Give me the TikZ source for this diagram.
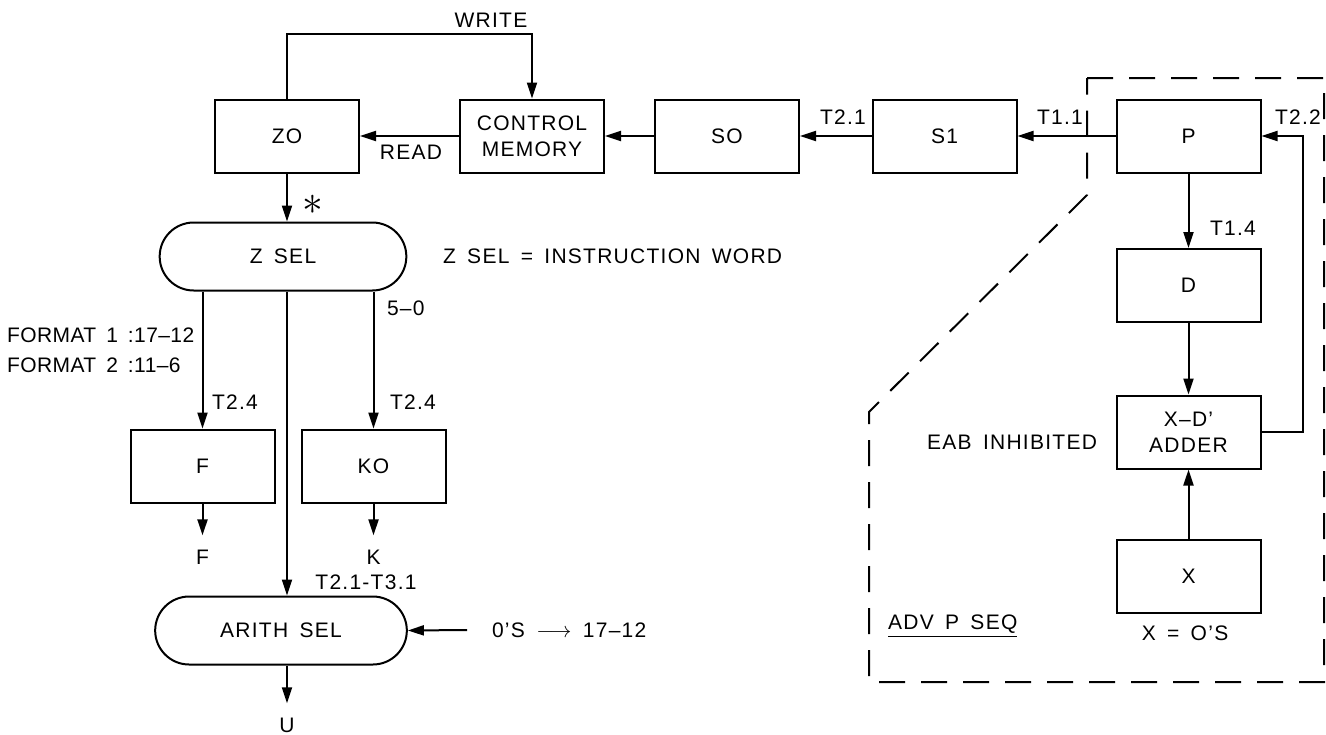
\documentclass[tikz,border=0pt]{standalone}
\usepackage{fontspec}
\setmainfont{Liberation Sans}[LetterSpace=6, WordSpace=1.6]
\usetikzlibrary{arrows.meta, shapes.misc}

\tikzset{
    blk/.style={draw, line width=1pt, minimum width=72pt, minimum height=36.5pt, align=center, inner sep=2pt},
    sel/.style={draw, line width=1pt, rounded rectangle, minimum width=130pt, minimum height=34pt},
    arr/.style={line width=1pt, -{Triangle[length=8pt,width=5pt]}},
    outlbl/.style={inner sep=7pt},
    bound/.style={line width=1pt, dash pattern=on 13pt off 8pt}
}

\begin{document}
\begin{tikzpicture}[x=0.5pt, y=-0.5pt, font=\fontsize{10.5}{13}\selectfont]
    \useasboundingbox (0,0) rectangle (1326,734);

    % Top row of registers
    \node[blk] (zo) at (287,136) {ZO};
    \node[blk] (ctrlmem) at (532,136) {CONTROL\\MEMORY};
    \node[blk] (so) at (727,136) {SO};
    \node[blk] (sone) at (944.5,136) {S1};
    \node[blk] (preg) at (1188.5,136) {P};

    % P sequence column
    \node[blk] (dreg) at (1188.5,285.5) {D};
    \node[blk] (adder) at (1188.5,432) {X--D'\\ADDER};
    \node[blk] (xreg) at (1188.5,576) {X};

    % Selection and output registers
    \node[sel] (zsel) at (283,256.5) {Z SEL};
    \node[blk] (freg) at (202.5,466) {F};
    \node[blk] (koreg) at (373.5,466) {KO};
    \node[sel, minimum width=132.5pt] (arith) at (281,630.5) {ARITH SEL};

    % Output labels
    \node[outlbl] (fout) at (202.5,557) {F};
    \node[outlbl] (kout) at (373.5,557) {K};
    \node[outlbl] (uout) at (287,725) {U};
    \node[anchor=west] (zeros) at (485,630) {0'S $\longrightarrow$ 17--12};

    % Text labels
    \node (write) at (491,20) {WRITE};
    \node (read) at (411,152) {READ};
    \node (ttwoone) at (843,117) {T2.1};
    \node (toneone) at (1060,117) {T1.1};
    \node[anchor=west] (ttwotwo) at (1268,117) {T2.2};
    \node[anchor=west] (tonefour) at (1203,228) {T1.4};
    \node (star) at (313,205) {\huge$\ast$};
    \node[anchor=west] (zselnote) at (436,256) {Z SEL = INSTRUCTION WORD};
    \node[anchor=west] (lowbits) at (380,308) {5--0};
    \node[anchor=west, align=left, font=\fontsize{10.5}{13}\selectfont\addfontfeature{LetterSpace=2}] (fmt) at (0,350) {FORMAT 1 :17--12\\[2pt]FORMAT 2 :11--6};
    \node[anchor=west] (tfl) at (205,402) {T2.4};
    \node[anchor=west] (tkl) at (383,402) {T2.4};
    \node (tarith) at (366,582) {T2.1-T3.1};
    \node[anchor=east] (eab) at (1104,442) {EAB INHIBITED};
    \node[anchor=west] (advp) at (881,626) {\underline{ADV P SEQ}};
    \node (xzero) at (1185,633) {X = O'S};

    % Top row connections
    \draw[arr] (zo.north) -- ++(0,-65) -| (ctrlmem.north);
    \draw[arr] (ctrlmem) -- (zo);
    \draw[arr] (so) -- (ctrlmem);
    \draw[arr] (sone) -- (so);
    \draw[arr] (preg) -- (sone);

    % P sequence loop
    \draw[arr] (preg) -- (dreg);
    \draw[arr] (dreg) -- (adder);
    \draw[arr] (xreg) -- (adder);
    \draw[arr] (adder.east) -- ++(41,0) |- (preg.east);

    % Selection paths
    \draw[arr] (zo.south) -- (zo.south |- zsel.north);
    \draw[arr] (zsel.south -| freg.north) -- (freg.north);
    \draw[arr] (zsel.south -| koreg.north) -- (koreg.north);
    \draw[arr] (zo.south |- zsel.south) -- (zo.south |- arith.north);
    \draw[arr] (freg) -- (fout);
    \draw[arr] (koreg) -- (kout);
    \draw[arr] (arith.south -| uout) -- (uout);
    \draw[arr] ([xshift=-9pt]zeros.west) -- (arith.east);

    % Dashed boundary
    \draw[bound] (1087,78) -- (1324,78) -- (1324,682) -- (869,682) -- (869,412) -- (1087,195) -- cycle;
\end{tikzpicture}
\end{document}
